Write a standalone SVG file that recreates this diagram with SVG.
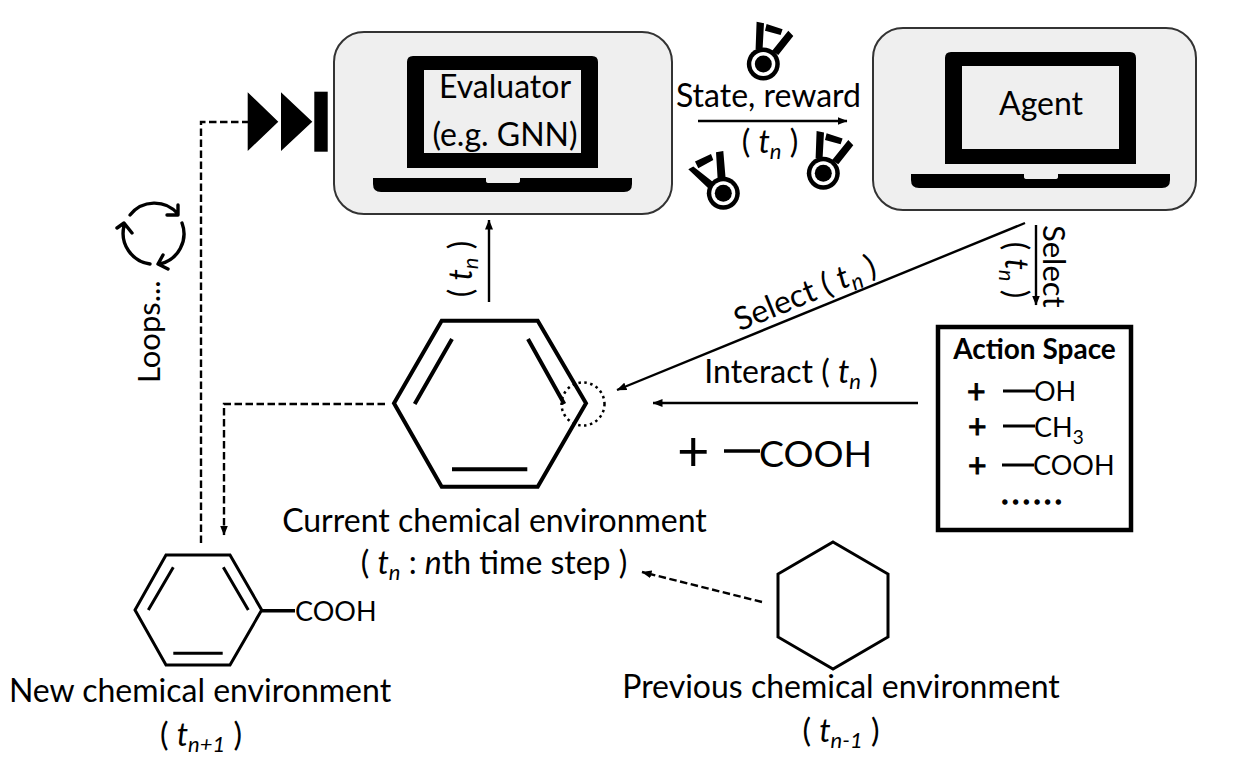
<svg xmlns="http://www.w3.org/2000/svg" width="1234" height="784" viewBox="0 0 1234 784">
<style>
text{font-family:"Lato","Liberation Sans",sans-serif;fill:#000}
.t{font-size:32px;text-anchor:middle}
.i{font-style:italic}
.sub{font-size:22px;font-style:italic}
.box{fill:#efefef;stroke:#333;stroke-width:2}
.ln{fill:none;stroke:#000;stroke-width:2.4}
.d{fill:none;stroke:#000;stroke-width:2.4;stroke-dasharray:7.5 3.5}
.hex{fill:none;stroke:#000;stroke-width:4;stroke-linejoin:miter}
.hex2{fill:none;stroke:#000;stroke-width:3;stroke-linejoin:miter}
.p{font-size:32px;stroke:#000;stroke-width:1}
.g{font-size:27px}
</style>
<defs>
<marker id="a" markerUnits="userSpaceOnUse" markerWidth="10" markerHeight="8" refX="9.500" refY="4" orient="auto"><path d="M0 0L10 4L0 8Z" fill="#000"/></marker>
<g id="laptop">
<path d="M413 56H592Q598 56 598 62V168H407V62Q407 56 413 56ZM424 70V153H581V70Z" fill="#000" fill-rule="evenodd"/>
<path d="M373 178H486V181Q486 183 489 183H517Q520 183 520 181V178H632V184Q632 192 624 192H381Q373 192 373 184Z" fill="#000"/>
</g>
<g id="medal">
<circle r="16.500" fill="#000"/><circle r="12" fill="#fff"/><circle r="8.500" fill="#000"/>
<path d="M-6.700-42.300L.7-40.700L-.7-15L-7.700-15ZM3.300-40L19.300-34.700L17.300-29L1.700-33.300ZM25-33.300L30-28L15-9L8.700-13Z" fill="#000"/>
</g>
</defs>
<rect width="1234" height="784" fill="#fff"/>

<g id="connectors">
<path class="ln" d="M489 302V220" marker-end="url(#a)"/>
<path class="ln" d="M698 121H847" marker-end="url(#a)"/>
<path class="ln" d="M1036 225V305" marker-end="url(#a)"/>
<path class="ln" d="M1025 223L617 390" marker-end="url(#a)"/>
<path class="ln" d="M918 403H653" marker-end="url(#a)"/>
<path class="d" d="M385 404H224V535" marker-end="url(#a)"/>
<path class="d" d="M201 543V122H248"/>
<path class="d" d="M762 602L642 572" marker-end="url(#a)"/>
</g>

<g id="evaluator">
<rect class="box" x="334" y="32" width="338" height="182" rx="30"/>
<use href="#laptop"/>
<text class="t" x="505" y="98">Evaluator</text>
<text class="t" x="505" y="146">(e.g. GNN)</text>
</g>
<g id="agent">
<rect class="box" x="873" y="28" width="323" height="182" rx="30"/>
<use href="#laptop" x="538" y="-4"/>
<text class="t" x="1041" y="115">Agent</text>
</g>
<g id="skip">
<path d="M247.700 92.300L278.300 121.700L247.700 151ZM281 92.300L312.300 121.700L281 151Z" fill="#000"/>
<rect x="314.300" y="91.700" width="13.400" height="60" fill="#000"/>
</g>
<g id="medals">
<use href="#medal" x="763.300" y="64"/>
<use href="#medal" x="823.300" y="173.300"/>
<g transform="translate(723.300 193.300)">
<circle r="16.500" fill="#000"/><circle r="12" fill="#fff"/><circle r="8.500" fill="#000"/>
<path d="M-7.300-41L0-42.300L2.300-15L-5.700-15ZM-28.300-31.700L-12.300-39.300L-10-33.300L-25-25ZM-35-24L-30-26.700L-10-11L-15-5Z" fill="#000"/>
</g>
</g>
<text class="t" x="768.500" y="107">State, reward</text>
<text class="t" x="770" y="153">( <tspan class="i">t</tspan><tspan class="sub" dy="6">n</tspan><tspan dy="-6"> )</tspan></text>

<g id="cycle" fill="none" stroke="#000" stroke-width="3.400" stroke-linecap="round" stroke-linejoin="round">
<path d="M130 215A31 31 0 0 1 178 214M167 215L178 215L178 205"/>
<path d="M182 223A31 31 0 0 1 160 264M168 269L158 264L163 255"/>
<path d="M150 264A31 31 0 0 1 124 226M117 228L124 223L132 233"/>
</g>
<text transform="translate(160 383) rotate(-90)" style="font-size:31px">Loops...</text>
<text class="t" transform="translate(472 269) rotate(-90)">( <tspan class="i">t</tspan><tspan class="sub" dy="6">n</tspan><tspan dy="-6"> )</tspan></text>

<g id="current">
<path class="hex" d="M441.700 320.700H537.700L586 403.300L537.700 486.700H441.700L394 403.300Z"/>
<path class="hex" d="M452 339L414.700 404M528 339L564.300 404M452 469.300H527.300" stroke-width="3.500"/>
<circle cx="583" cy="404" r="21.500" fill="none" stroke="#000" stroke-width="2.500" stroke-dasharray="2.500 3.500"/>
<text class="t" x="494.500" y="532">Current chemical environment</text>
<text class="t" x="494" y="574">( <tspan class="i">t</tspan><tspan class="sub" dy="6">n</tspan><tspan dy="-6"> : </tspan><tspan class="i">n</tspan>th time step )</text>
</g>
<text class="t" transform="translate(809 303) rotate(-22.300)">Select ( <tspan class="i">t</tspan><tspan class="sub" dy="6">n</tspan><tspan dy="-6"> )</tspan></text>
<text class="t" x="791" y="383">Interact ( <tspan class="i">t</tspan><tspan class="sub" dy="6">n</tspan><tspan dy="-6"> )</tspan></text>
<text transform="translate(1043 225) rotate(90)" style="font-size:31px">Select</text>
<text class="t" transform="translate(1005 270) rotate(90)">( <tspan class="i">t</tspan><tspan class="sub" dy="6">n</tspan><tspan dy="-6"> )</tspan></text>

<g id="action-space">
<rect x="938" y="327" width="193" height="203" fill="#fff" stroke="#000" stroke-width="4.500"/>
<text x="1034.500" y="359" style="font-size:28px;font-weight:700;text-anchor:middle">Action Space</text>
<text class="p" x="967" y="403">+</text><text class="p" x="968" y="438">+</text><text class="p" x="968" y="477">+</text>
<text class="g" x="1034" y="401">OH</text>
<text class="g" x="1034" y="437">CH<tspan font-size="19" dy="7">3</tspan></text>
<text class="g" x="1033" y="475">COOH</text>
<path d="M1003 391H1035M1003 426H1035M1002 465H1034" stroke="#000" stroke-width="3" fill="none"/>
<text x="1002" y="504" style="font-size:24px;font-weight:900;letter-spacing:5px;stroke:#000;stroke-width:1.500">......</text>
</g>
<g id="add-cooh">
<text x="677" y="471" style="font-size:56px">+</text>
<path d="M724 451H760" stroke="#000" stroke-width="3.500"/>
<text x="759" y="467" style="font-size:37.500px">COOH</text>
</g>
<g id="new">
<path class="hex2" d="M166 555H230L261.700 610L230 665H166L135 610Z"/>
<path class="hex2" d="M173.300 567.300L148.300 610M223.300 567.300L248.300 610M173.300 653.300H222.700"/>
<path d="M262 610.700H295" stroke="#000" stroke-width="3.500"/>
<text x="295" y="621" style="font-size:27px">COOH</text>
<text class="t" x="200" y="702">New chemical environment</text>
<text class="t" x="201" y="746">( <tspan class="i">t</tspan><tspan class="sub" dy="6">n+1</tspan><tspan dy="-6"> )</tspan></text>
</g>
<g id="previous">
<path class="hex2" d="M833 542L888 574V637L833 669L778 637V574Z"/>
<text class="t" x="841" y="698">Previous chemical environment</text>
<text class="t" x="841" y="742">( <tspan class="i">t</tspan><tspan class="sub" dy="6">n-1</tspan><tspan dy="-6"> )</tspan></text>
</g>
</svg>
